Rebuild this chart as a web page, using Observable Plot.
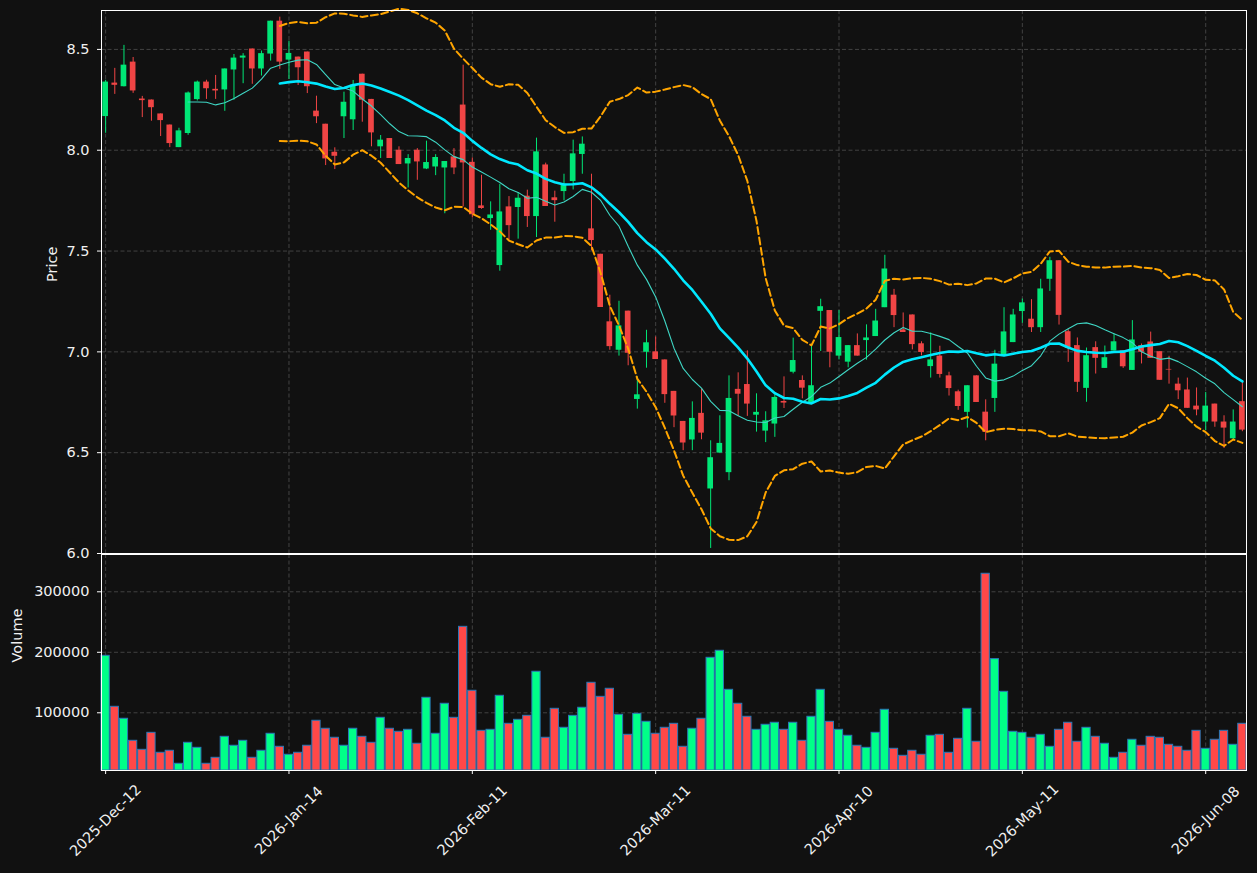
<!DOCTYPE html>
<html>
<head>
<meta charset="utf-8">
<script src="https://cdn.jsdelivr.net/npm/d3@7"></script>
<script src="https://cdn.jsdelivr.net/npm/@observablehq/plot@0.6"></script>
<style>
  html, body { margin: 0; padding: 0; background: #111111; overflow: hidden; }
  #chart { width: 1257px; height: 873px; background: #111111; }
  #chart svg { display: block; overflow: visible; }
  #chart svg text { font-family: "DejaVu Sans", sans-serif; font-size: 14.5px; }
</style>
</head>
<body>
<div id="chart"></div>
<script>
// ---- data ----
const open = [8.167,8.333,8.315,8.437,8.254,8.249,8.180,8.125,8.013,8.083,8.251,8.338,8.302,8.299,8.398,8.457,8.502,8.403,8.477,8.640,
  8.447,8.462,8.487,8.194,8.129,7.990,8.166,8.151,8.377,8.252,8.017,8.058,8.000,7.932,8.000,7.907,7.917,7.912,7.967,8.224,
  7.940,7.724,7.661,7.428,7.719,7.716,7.772,7.671,7.927,7.764,7.795,7.845,7.979,7.610,7.484,7.149,7.008,7.202,6.764,6.998,
  7.000,6.960,6.804,6.655,6.563,6.695,6.320,6.498,6.401,6.814,6.838,6.686,6.607,6.642,6.754,6.899,6.858,6.746,7.201,7.205,
  6.979,6.949,7.031,7.056,7.076,7.219,7.281,7.109,7.183,7.040,6.927,6.979,6.881,6.802,6.700,6.881,6.701,6.769,6.977,7.046,
  7.200,7.162,7.120,7.360,7.452,7.100,7.031,6.819,7.021,6.918,7.004,7.005,6.908,7.031,7.049,7.001,6.913,6.840,6.811,6.731,
  6.652,6.741,6.652,6.569,6.753];
const high = [8.347,8.406,8.520,8.460,8.267,8.249,8.180,8.125,8.109,8.289,8.343,8.347,8.371,8.403,8.475,8.479,8.502,8.492,8.640,8.660,
  8.541,8.462,8.487,8.268,8.129,8.012,8.288,8.346,8.377,8.252,8.073,8.058,8.017,7.978,8.008,8.045,7.978,7.944,8.008,8.422,
  7.962,7.876,7.744,7.831,7.770,7.790,7.802,8.060,7.936,7.797,7.881,8.050,8.066,7.881,7.484,7.281,7.251,7.202,6.876,7.107,
  7.074,6.960,6.804,6.655,6.752,6.817,6.559,6.683,6.881,6.896,7.005,6.792,6.703,6.792,6.876,7.068,6.881,7.030,7.261,7.205,
  7.205,7.031,7.089,7.134,7.211,7.479,7.310,7.193,7.183,7.050,7.094,7.028,6.899,6.810,6.832,6.881,6.762,7.008,7.219,7.211,
  7.262,7.259,7.360,7.469,7.452,7.110,7.069,7.019,7.050,7.029,7.088,7.005,7.155,7.039,7.098,7.001,6.978,6.870,6.870,6.821,
  6.799,6.741,6.683,6.712,6.852];
const low = [8.084,8.277,8.314,8.282,8.162,8.144,8.068,8.013,8.013,8.074,8.244,8.252,8.252,8.193,8.248,8.330,8.327,8.368,8.442,8.401,
  8.351,8.321,8.281,8.132,7.924,7.904,8.058,8.098,8.139,8.017,7.959,7.959,7.929,7.813,7.851,7.904,7.874,7.685,7.879,7.719,
  7.664,7.707,7.603,7.400,7.550,7.559,7.617,7.567,7.721,7.643,7.749,7.803,7.881,7.501,7.220,7.008,6.979,6.931,6.716,6.919,
  6.962,6.745,6.624,6.510,6.510,6.564,6.025,6.498,6.361,6.680,6.680,6.602,6.550,6.576,6.719,6.891,6.767,6.746,7.002,6.921,
  6.960,6.921,6.979,6.959,7.076,7.219,7.120,7.096,7.010,6.980,6.870,6.870,6.781,6.710,6.622,6.749,6.559,6.700,6.977,7.046,
  7.142,7.096,7.096,7.300,7.133,6.948,6.799,6.750,6.890,6.918,7.004,6.918,6.908,6.940,6.968,6.859,6.840,6.763,6.720,6.683,
  6.609,6.626,6.521,6.560,6.604];
const close = [8.338,8.322,8.422,8.294,8.246,8.211,8.147,8.033,8.096,8.284,8.338,8.305,8.294,8.403,8.457,8.467,8.403,8.479,8.640,8.437,
  8.480,8.409,8.315,8.166,7.957,7.970,8.238,8.323,8.248,8.086,8.050,7.959,7.929,7.959,7.942,7.939,7.964,7.944,7.912,7.937,
  7.680,7.711,7.679,7.694,7.626,7.762,7.671,7.992,7.721,7.750,7.831,7.982,8.030,7.552,7.220,7.026,7.129,6.993,6.787,7.045,
  6.962,6.788,6.682,6.548,6.670,6.597,6.475,6.546,6.769,6.790,6.741,6.700,6.658,6.774,6.746,6.957,6.820,6.832,7.224,6.998,
  7.071,7.031,6.979,7.069,7.153,7.411,7.180,7.096,7.036,6.997,6.960,6.888,6.818,6.729,6.832,6.749,6.601,6.939,7.099,7.183,
  7.243,7.120,7.312,7.452,7.181,7.017,6.849,6.981,6.968,6.971,7.050,6.926,7.059,6.998,6.968,6.859,6.910,6.807,6.720,6.712,
  6.731,6.652,6.622,6.652,6.612];
const volume = [194200,109900,90100,53700,38800,66900,33900,37200,15700,50400,42100,15700,25600,60300,45500,53700,25600,37200,65300,43800,
  30600,33900,45500,86800,73600,58700,45500,73600,60300,50400,91700,73600,68600,71900,48800,124800,65300,114900,91700,242100,
  136400,70200,71900,128100,81800,88400,95000,167800,58700,106600,75200,95000,108300,149600,126400,139700,96700,63600,98300,85100,
  65300,75200,81800,43800,73600,90100,190900,202500,138000,114900,93400,71900,80200,83500,71900,83500,53700,93400,138000,85100,
  71900,62000,45500,42100,66900,105000,40500,28900,37200,30600,62000,63600,33900,57000,106600,52100,329800,188700,134700,68600,
  66900,58700,63600,43800,71900,83500,52100,75200,60300,48800,25600,33900,55400,45500,60300,58700,47100,43800,37200,70200,
  40500,55400,70200,47100,81800];
const tickIdx = [0, 20, 40, 60, 80, 100, 120];
const tickLabels = ["2025-Dec-12","2026-Jan-14","2026-Feb-11","2026-Mar-11","2026-Apr-10","2026-May-11","2026-Jun-08"];
const priceTicks = [6.0, 6.5, 7.0, 7.5, 8.0, 8.5];
const volTicks = [100000, 200000, 300000];

// ---- derived rows and indicators (rolling windows over the closes) ----
const GREEN = "#00e676", RED = "#f04545";
const VGREEN = "#00ff88", VRED = "#ff4848";
const rows = close.map((c, i) => ({i, o: open[i], h: high[i], l: low[i], c, v: volume[i], up: c >= open[i]}));
function rolling(n, f) {
  return close.map((c, i) => i < n - 1 ? null : f(close.slice(i - n + 1, i + 1)));
}
const ma10 = rolling(10, d3.mean);
const ma20 = rolling(20, d3.mean);
const sd20 = rolling(20, d3.deviation);
const ind = rows.map(r => ({i: r.i, ma10: ma10[r.i], ma20: ma20[r.i],
  up: ma20[r.i] == null ? null : ma20[r.i] + 2 * sd20[r.i],
  dn: ma20[r.i] == null ? null : ma20[r.i] - 2 * sd20[r.i]}));
const ind10 = ind.filter(d => d.ma10 != null);
const ind20 = ind.filter(d => d.ma20 != null);

const xDomain = [-0.45, 124.45];
const gridStyle = {stroke: "#424242", strokeOpacity: 1, strokeDasharray: "4,2.5", strokeWidth: 1};
const baseStyle = {background: "transparent", color: "#f0f0f0", fontFamily: "DejaVu Sans, sans-serif", fontSize: "14.5px", overflow: "visible"};
const bandStyle = {stroke: "#ffa500", strokeWidth: 2, strokeDasharray: "7,3.5"};

const price = Plot.plot({
  width: 1257, height: 554,
  marginLeft: 101, marginRight: 11, marginTop: 10, marginBottom: 1,
  style: baseStyle,
  x: {domain: xDomain, axis: null},
  y: {domain: [6.0, 8.693]},
  color: {type: "identity"},
  marks: [
    Plot.gridY(priceTicks.slice(1), gridStyle),
    Plot.gridX(tickIdx, gridStyle),
    Plot.ruleX(rows, {x: "i", y1: "l", y2: "h", stroke: d => d.up ? GREEN : RED, strokeWidth: 1}),
    Plot.rectY(rows, {x1: d => d.i - 0.31, x2: d => d.i + 0.31, y1: "o", y2: "c", fill: d => d.up ? GREEN : RED}),
    Plot.line(ind20, {x: "i", y: "up", ...bandStyle}),
    Plot.line(ind20, {x: "i", y: "dn", ...bandStyle}),
    Plot.line(ind10, {x: "i", y: "ma10", stroke: "#3fd6c4", strokeWidth: 1.1}),
    Plot.line(ind20, {x: "i", y: "ma20", stroke: "#00e8ff", strokeWidth: 2.6}),
    Plot.axisY({ticks: priceTicks, tickFormat: d3.format(".1f"), tickSize: 4, tickPadding: 8, label: null, stroke: "#ffffff"}),
    Plot.frame({stroke: "#ffffff", strokeWidth: 1}),
    Plot.text(["Price"], {frameAnchor: "left", dx: -49, rotate: -90, fill: "#f0f0f0"})
  ]
});

const vol = Plot.plot({
  width: 1257, height: 319,
  marginLeft: 101, marginRight: 11, marginTop: 0, marginBottom: 103,
  style: baseStyle,
  x: {domain: xDomain},
  y: {domain: [4600, 361650]},
  color: {type: "identity"},
  marks: [
    Plot.gridY(volTicks, gridStyle),
    Plot.gridX(tickIdx, gridStyle),
    Plot.rectY(rows, {x1: d => d.i - 0.45, x2: d => d.i + 0.45, y1: () => 4600, y2: "v",
      fill: d => d.up ? VGREEN : VRED, stroke: "#2a78b8", strokeWidth: 1}),
    Plot.axisY({ticks: volTicks, tickFormat: d => String(d), tickSize: 4, tickPadding: 8, label: null, stroke: "#ffffff"}),
    Plot.axisX({ticks: tickIdx, tickSize: 4, tickFormat: () => "", label: null, stroke: "#ffffff"}),
    Plot.text(tickIdx, {x: d => d, y: () => 4600, dy: 50, text: (d, i) => tickLabels[i], rotate: -45,
      textAnchor: "middle", lineAnchor: "middle", fill: "#f0f0f0"}),
    Plot.frame({stroke: "#ffffff", strokeWidth: 1}),
    Plot.text(["Volume"], {frameAnchor: "left", dx: -84, rotate: -90, fill: "#f0f0f0"})
  ]
});

const root = document.getElementById("chart");
root.append(price, vol);
</script>
</body>
</html>
